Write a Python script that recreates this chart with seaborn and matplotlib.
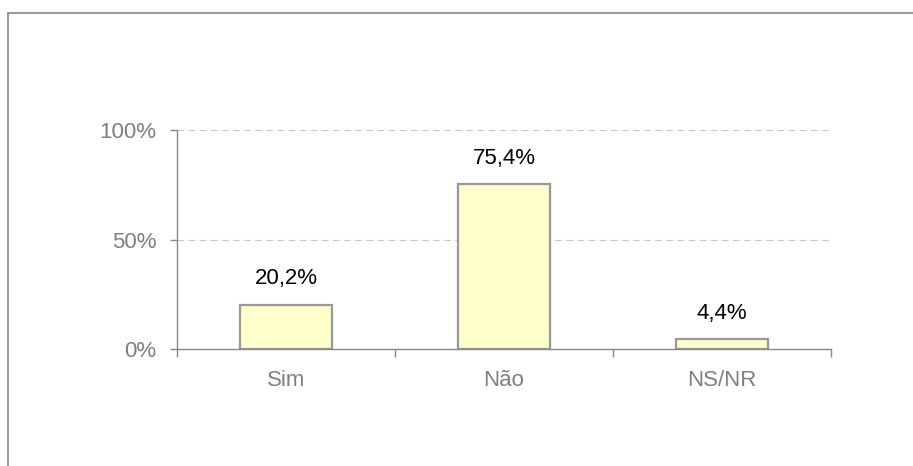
import matplotlib
matplotlib.use("Agg")
import matplotlib.pyplot as plt
import seaborn as sns
import pandas as pd
from matplotlib.lines import Line2D
from matplotlib.ticker import FixedLocator

categories = ["Sim", "Não", "NS/NR"]
values = [20.2, 75.4, 4.4]
value_labels = ["20,2%", "75,4%", "4,4%"]
ytick_values = [0, 50, 100]
ytick_labels = ["0%", "50%", "100%"]

sns.set_theme(style="white")
plt.rcParams["font.family"] = ["Liberation Sans", "DejaVu Sans"]

df = pd.DataFrame({"cat": categories, "val": values})

W, H = 913, 466
fig = plt.figure(figsize=(W / 100, H / 100), dpi=100)
ax = fig.add_axes([177 / W, 1 - 349 / H, (831 - 177) / W, (349 - 130) / H])

sns.barplot(data=df, x="cat", y="val", ax=ax, color="#FFFFCC", width=0.42,
            edgecolor="#999999", linewidth=1.6, saturation=1)

ax.set_ylim(0, 100)
ax.set_xlim(-0.5, 2.5)
ax.set_yticks(ytick_values)
ax.set_yticklabels(ytick_labels)
ax.set_xlabel("")
ax.set_ylabel("")

for y in ytick_values[1:]:
    ax.axhline(y, color="#C8C8C8", linestyle=(0, (6, 4)), linewidth=0.8, zorder=0)

for sp in ["top", "right"]:
    ax.spines[sp].set_visible(False)
for sp in ["left", "bottom"]:
    ax.spines[sp].set_color("#888888")
    ax.spines[sp].set_linewidth(1.0)

ax.tick_params(axis="y", which="major", direction="out", length=5, width=1,
               color="#888888", labelcolor="#7F7F7F", labelsize=16, pad=10, left=True)
ax.tick_params(axis="x", which="major", length=0, labelcolor="#7F7F7F",
               labelsize=16, pad=15)
ax.xaxis.set_minor_locator(FixedLocator([-0.5, 0.5, 1.5, 2.5]))
ax.tick_params(axis="x", which="minor", direction="out", length=6, width=1,
               color="#888888", bottom=True)

for i, (v, lab) in enumerate(zip(values, value_labels)):
    ax.annotate(lab, (i, v), xytext=(0, 11), textcoords="offset points",
                ha="center", va="bottom", fontsize=16, color="black")

# figure border lines (top and left)
fig.add_artist(Line2D([8 / W, 1], [1 - 13 / H, 1 - 13 / H], transform=fig.transFigure,
                      color="#888888", linewidth=1.2))
fig.add_artist(Line2D([8 / W, 8 / W], [0, 1 - 13 / H], transform=fig.transFigure,
                      color="#888888", linewidth=1.2))

fig.savefig("out.png", dpi=100)
